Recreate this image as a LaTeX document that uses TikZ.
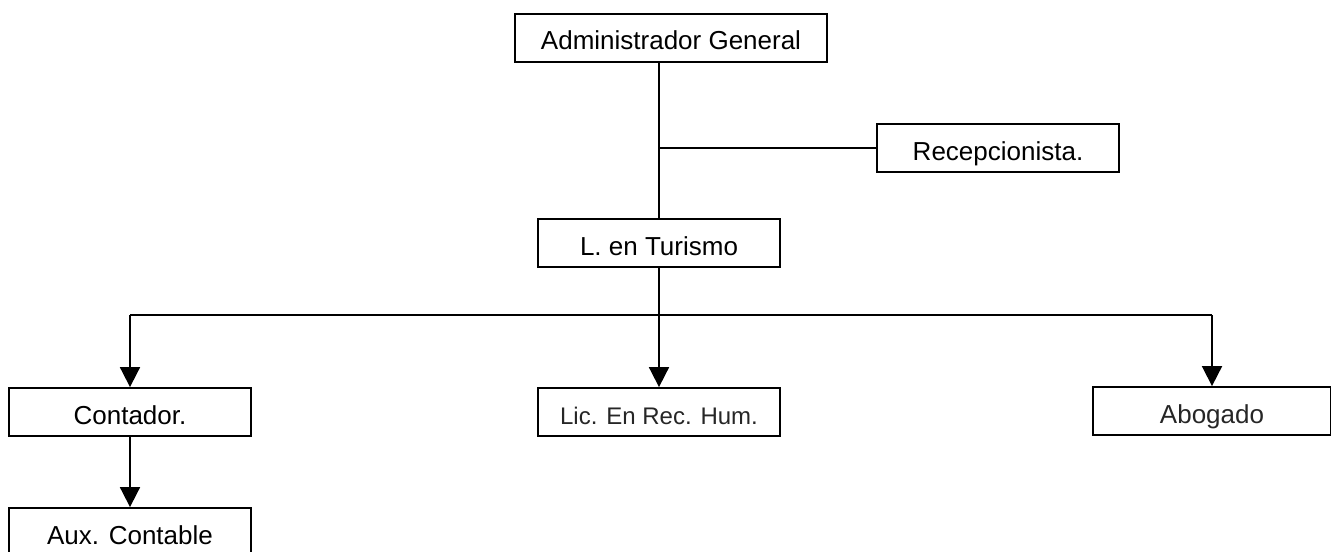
\documentclass[tikz,border=0pt]{standalone}
\usepackage{fontspec}
\setmainfont{Liberation Sans}
\usepackage{tikz}
\usetikzlibrary{arrows.meta, positioning, calc}

\tikzset{
  puesto/.style={draw, line width=0.9pt, minimum width=121pt, minimum height=24pt,
    inner sep=0pt, text height=12pt, text depth=0pt, font=\fontsize{13}{15}\selectfont},
  linea/.style={line width=0.9pt},
  flecha/.style={line width=0.9pt, -{Triangle[length=10pt,width=10pt]}}
}

\begin{document}
\begin{tikzpicture}[x=0.5pt, y=-0.5pt]
  % page frame
  \useasboundingbox (0,0) rectangle (1331,551);

  % top of the chart
  \node[puesto, minimum width=156pt] (admin) at (671,38) {Administrador General};
  \node[puesto] (recep) at (998,148) {Recepcionista.};
  \node[puesto] (tur) at (659,243) {L. en Turismo};

  % second level
  \node[puesto] (cont) at (130,412) {Contador.};
  \node[puesto, font=\fontsize{12}{14}\selectfont, text=black!85] (lic) at (659,412) {Lic. En Rec. Hum.};
  \node[puesto, minimum width=119pt, text=black!85] (abog) at (1212,411) {Abogado};
  \node[puesto] (aux) at (130,532) {Aux. Contable};

  % connectors
  \coordinate (bus) at (0,315);
  \draw[linea] (admin.south -| tur) -- (tur.north);
  \draw[linea] (recep.west) -- (recep.west -| tur);
  \draw[linea] (bus -| cont) -- (bus -| abog);
  \draw[flecha] (tur.south) -- (lic.north);
  \foreach \n in {cont, abog} {
    \draw[flecha] (bus -| \n) -- (\n.north);
  }
  \draw[flecha] (cont.south) -- (aux.north);
\end{tikzpicture}
\end{document}
